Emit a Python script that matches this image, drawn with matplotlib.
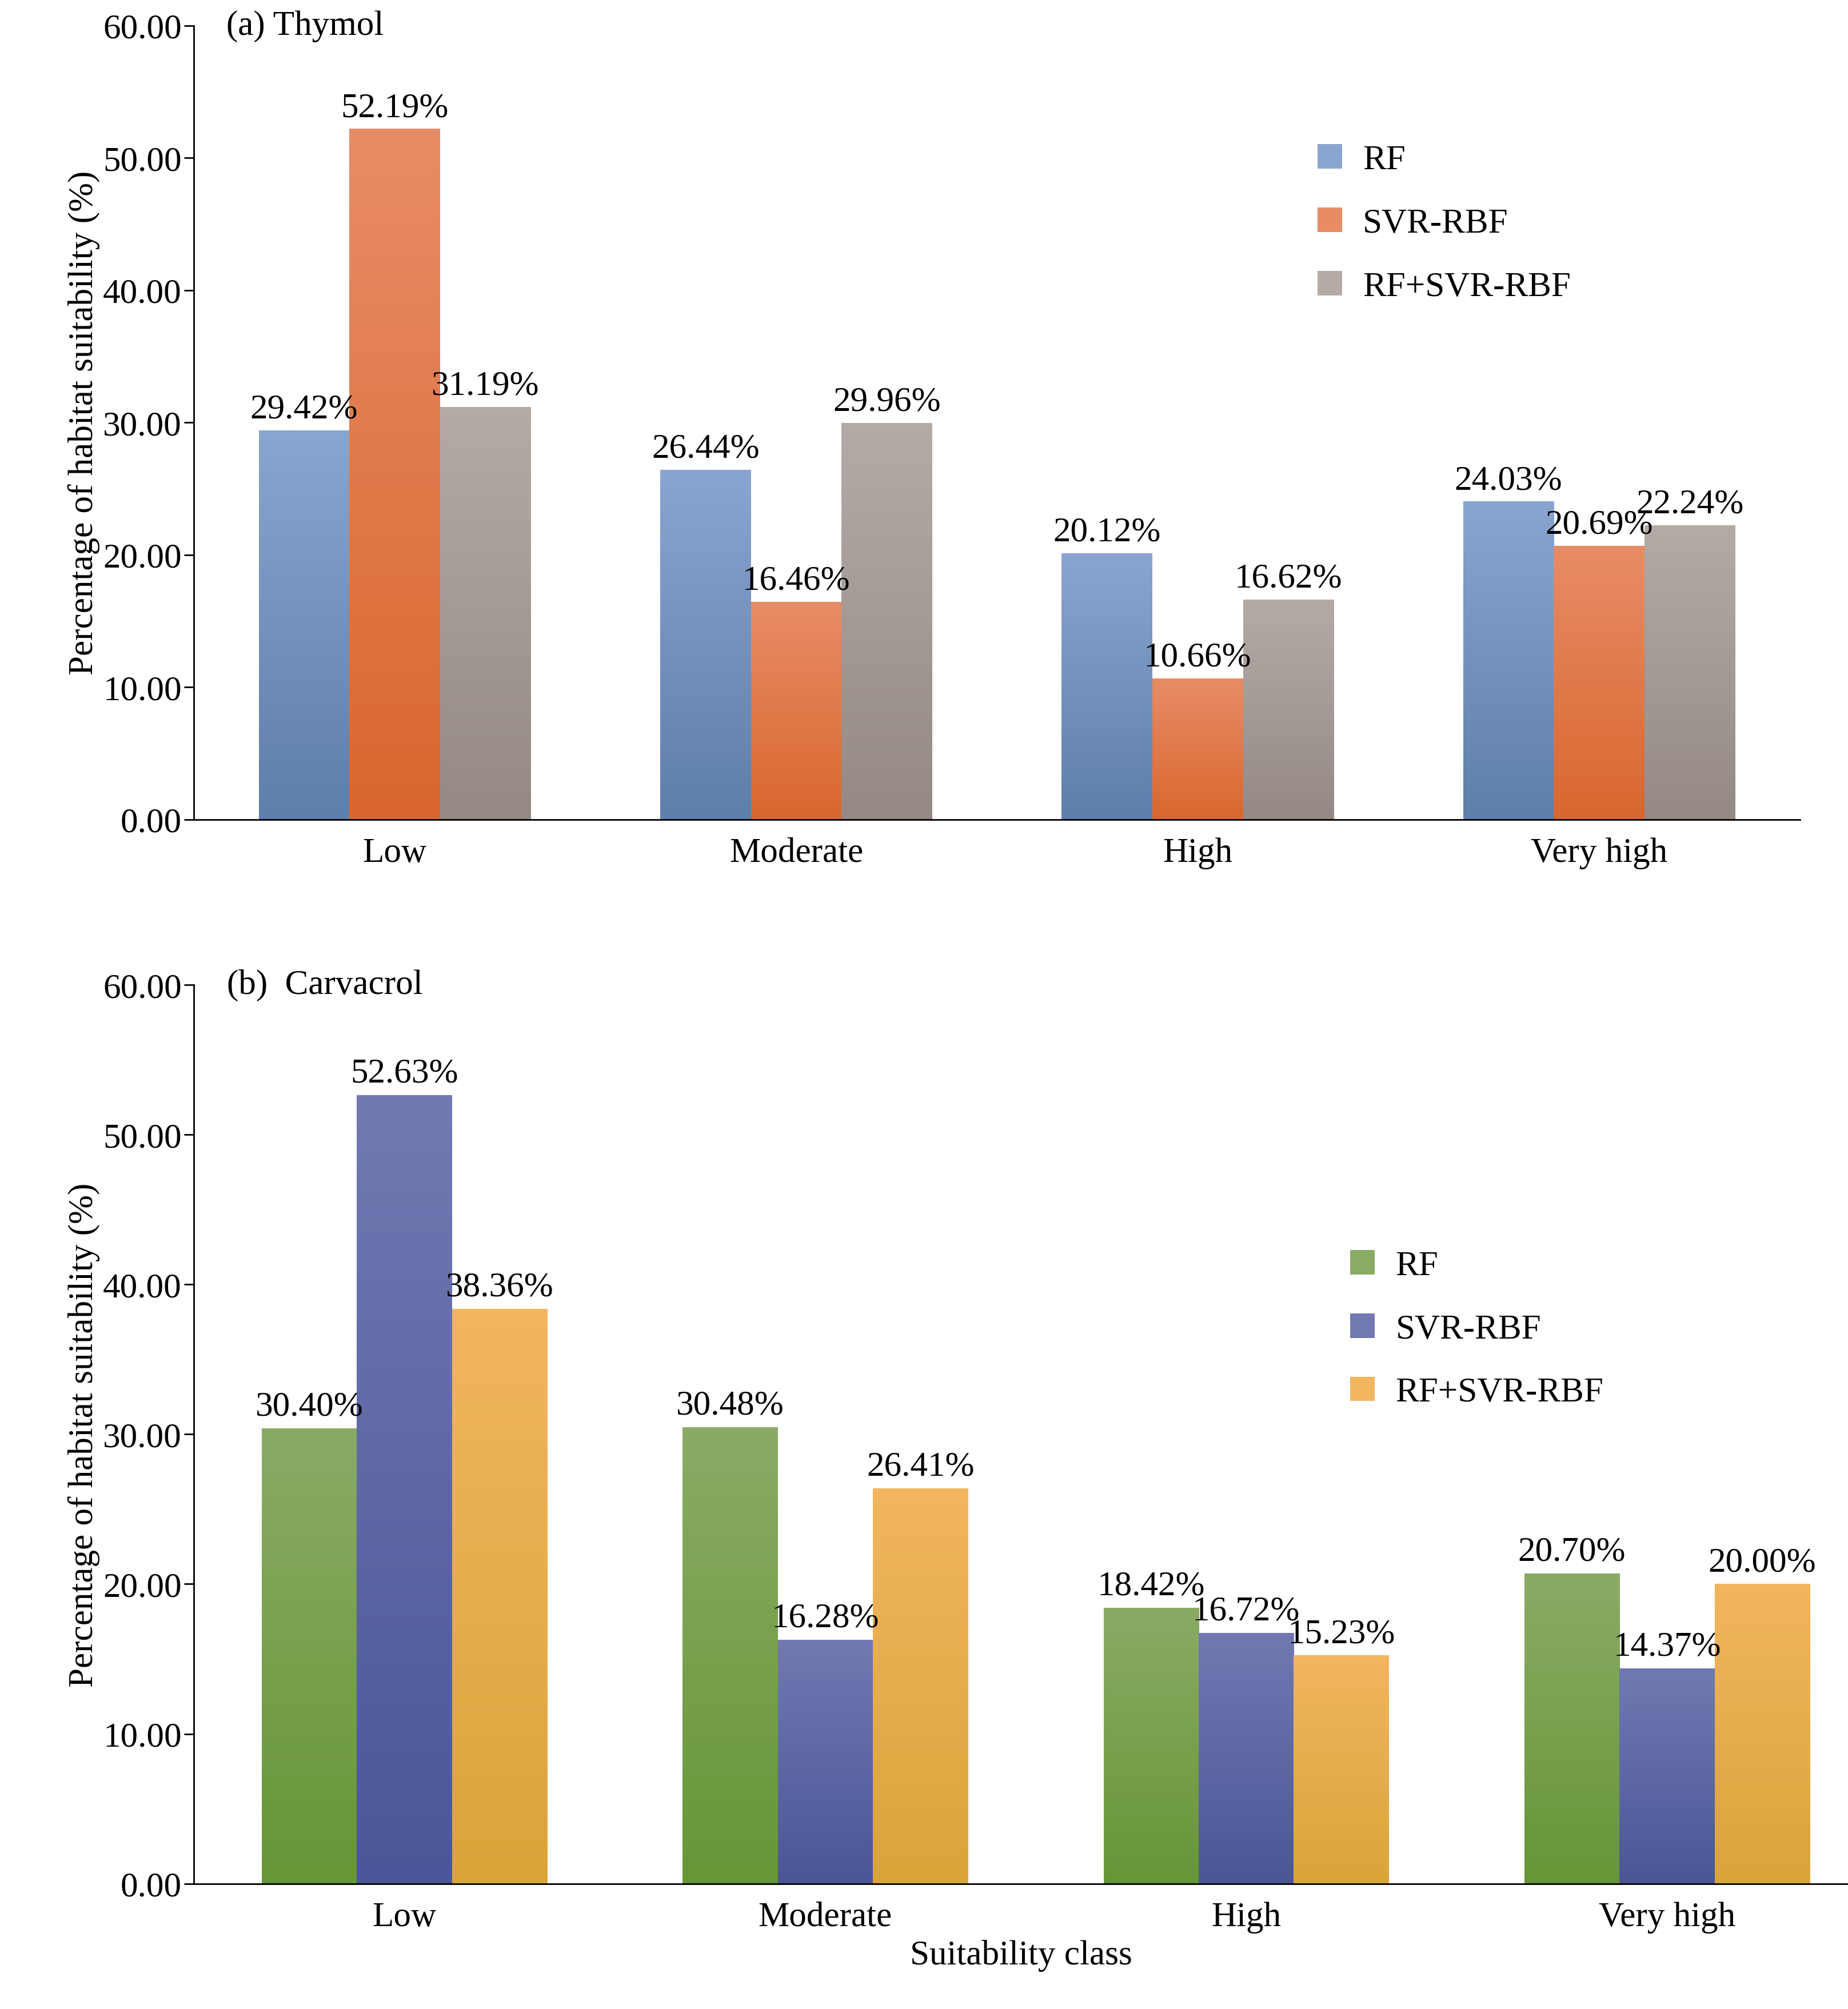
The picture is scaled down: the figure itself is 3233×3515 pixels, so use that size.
import matplotlib
matplotlib.use("Agg")
import matplotlib.pyplot as plt
import numpy as np
from matplotlib.colors import LinearSegmentedColormap

categories = ["Low", "Moderate", "High", "Very high"]
series = ["RF", "SVR-RBF", "RF+SVR-RBF"]
thymol = {"RF": [29.42, 26.44, 20.12, 24.03],
          "SVR-RBF": [52.19, 16.46, 10.66, 20.69],
          "RF+SVR-RBF": [31.19, 29.96, 16.62, 22.24]}
carvacrol = {"RF": [30.40, 30.48, 18.42, 20.70],
             "SVR-RBF": [52.63, 16.28, 16.72, 14.37],
             "RF+SVR-RBF": [38.36, 26.41, 15.23, 20.00]}

cols_a = [("#8aa5cf", "#5e7eab"), ("#e88c66", "#d9672e"), ("#b4aba6", "#948985")]
cols_b = [("#8aab66", "#669636"), ("#7279b2", "#4a5697"), ("#f3b55e", "#d9a53a")]

plt.rcParams['font.family'] = ['Liberation Serif', 'DejaVu Serif']
fs = 44
fig = plt.figure(figsize=(32.33, 35.16), dpi=100)

def panel(rect, data, cols, title, xlim_r, legy):
    ax = fig.add_axes(rect)
    x = np.arange(len(categories))
    w = 0.226
    grad = np.linspace(0, 1, 256).reshape(-1, 1)
    for i, s in enumerate(series):
        cmap = LinearSegmentedColormap.from_list(s, [cols[i][1], cols[i][0]])
        xs = x + (i - 1) * w
        bars = ax.bar(xs, data[s], w, color=cols[i][0], label=s, linewidth=0)
        for b, v in zip(bars, data[s]):
            x0 = b.get_x()
            im = ax.imshow(grad, extent=[x0, x0 + w, 0, v], origin='lower',
                           cmap=cmap, aspect='auto', zorder=2)
            im.set_clip_path(b)
            b.set_alpha(1)
            ax.text(x0 + w / 2, v + 0.4, f"{v:.2f}%", ha='center', va='bottom',
                    fontsize=fs, zorder=5)
    ax.set_xlim(-0.5, xlim_r)
    ax.set_ylim(0, 60)
    ax.set_yticks(np.arange(0, 61, 10))
    ax.set_yticklabels([f"{t:.2f}" for t in np.arange(0, 61, 10)])
    ax.set_xticks(x)
    ax.set_xticklabels(categories)
    ax.tick_params(axis='x', length=0, labelsize=fs, pad=22)
    ax.tick_params(axis='y', direction='out', length=12, width=2, labelsize=fs)
    for sp in ['top', 'right']:
        ax.spines[sp].set_visible(False)
    for sp in ['left', 'bottom']:
        ax.spines[sp].set_linewidth(2)
    ax.set_ylabel("Percentage of habitat suitability (%)", fontsize=fs)
    ax.text(0.02, 1.0, title, transform=ax.transAxes, fontsize=fs, va='center', ha='left')
    ax.legend(loc='upper left', bbox_to_anchor=(0.68, legy), frameon=False,
              fontsize=fs, handlelength=0.7, handleheight=0.7, labelspacing=0.9,
              handletextpad=0.6)
    return ax

panel([0.105, 0.592, 0.869, 0.395], thymol, cols_a, "(a) Thymol", 3.5, 0.89)
ax2 = panel([0.105, 0.0624, 0.895, 0.4472], carvacrol, cols_b, "(b)  Carvacrol", 3.43, 0.74)
ax2.set_xlabel("Suitability class", fontsize=fs, labelpad=8)
fig.savefig("out.png", dpi=100)
